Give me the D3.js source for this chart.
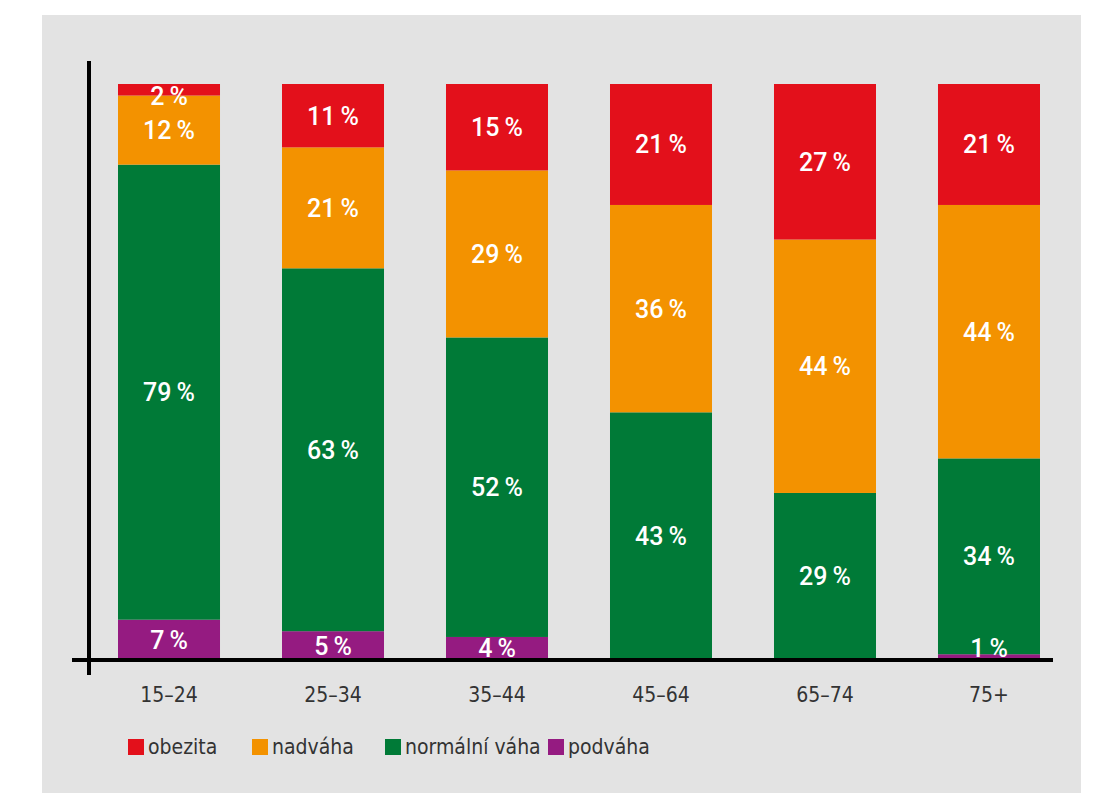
<!DOCTYPE html>
<html>
<head>
<meta charset="utf-8">
<script src="https://cdn.jsdelivr.net/npm/d3@7"></script>
<style>
  body { margin: 0; background: #fff; }
  text { font-family: "DejaVu Sans", sans-serif; font-stretch: condensed; }
</style>
</head>
<body>
<svg id="chart" width="1101" height="800"></svg>
<script>
'use strict'

// age groups on the x axis
const ageGroups = ['15–24', '25–34', '35–44', '45–64', '65–74', '75+']

// stacked series, bottom to top (percent)
const podvaha = [7, 5, 4, 0, 0, 1]
const normalniVaha = [79, 63, 52, 43, 29, 34]
const nadvaha = [12, 21, 29, 36, 44, 44]
const obezita = [2, 11, 15, 21, 27, 21]

const seriesNames = ['podváha', 'normální váha', 'nadváha', 'obezita']
const seriesValues = [podvaha, normalniVaha, nadvaha, obezita]
const seriesColors = ['#951b81', '#007a37', '#f39200', '#e3101b']

// legend order as printed under the chart
const legendOrder = ['obezita', 'nadváha', 'normální váha', 'podváha']
const legendX = [128, 252, 385, 548]

const svg = d3.select('#chart')

// grey panel behind the chart
svg.append('rect')
  .attr('x', 42).attr('y', 15)
  .attr('width', 1039).attr('height', 778)
  .attr('fill', '#e3e3e3')

const x = d3.scaleBand()
  .domain(ageGroups)
  .range([118, 1040])
  .paddingInner(0.378)
  .paddingOuter(0)

const y = d3.scaleLinear()
  .domain([0, 100])
  .range([660, 84])

const rows = ageGroups.map((g, i) => {
  const row = { group: g }
  seriesNames.forEach((name, s) => { row[name] = seriesValues[s][i] })
  return row
})

const stacked = d3.stack().keys(seriesNames)(rows)

svg.append('g')
  .selectAll('g.layer')
  .data(stacked)
  .join('g')
  .attr('class', 'layer')
  .attr('fill', (d, i) => seriesColors[i])
  .selectAll('rect')
  .data(d => d)
  .join('rect')
  .attr('x', d => x(d.data.group))
  .attr('width', x.bandwidth())
  .attr('y', d => y(d[1]))
  .attr('height', d => y(d[0]) - y(d[1]))

// value labels on top of all bars, kept inside the plot for tiny segments
const points = stacked.flatMap(layer => layer.filter(p => p[1] - p[0] > 0))

svg.append('g')
  .selectAll('text')
  .data(points)
  .join('text')
  .attr('x', d => x(d.data.group) + x.bandwidth() / 2)
  .attr('y', d => Math.min(Math.max((y(d[0]) + y(d[1])) / 2, y(98)), y(2)))
  .attr('dy', '0.36em')
  .attr('text-anchor', 'middle')
  .attr('fill', '#fff')
  .attr('font-size', 25)
  .attr('font-weight', 500)
  .style('font-family', 'Roboto, sans-serif')
  .style('font-stretch', 'normal')
  .text(d => `${d[1] - d[0]}\u2009%`)

// category labels
const xAxis = svg.append('g')
  .attr('transform', `translate(0,${y(0)})`)
  .call(d3.axisBottom(x).tickSize(0).tickPadding(27))
xAxis.select('.domain').remove()
xAxis.selectAll('text')
  .attr('font-size', 21)
  .attr('fill', '#333')
  .style('font-family', '"DejaVu Sans", sans-serif')
  .style('font-stretch', 'condensed')

// axis lines
svg.append('line')
  .attr('x1', 72).attr('x2', 1053)
  .attr('y1', y(0)).attr('y2', y(0))
  .attr('stroke', '#000').attr('stroke-width', 4)

svg.append('line')
  .attr('x1', 89).attr('x2', 89)
  .attr('y1', 61).attr('y2', 675)
  .attr('stroke', '#000').attr('stroke-width', 4)

// legend
const legend = svg.append('g')
  .selectAll('g')
  .data(legendOrder)
  .join('g')
  .attr('transform', (d, i) => `translate(${legendX[i]},747)`)

legend.append('rect')
  .attr('x', 0).attr('y', -8)
  .attr('width', 16).attr('height', 16)
  .attr('fill', d => seriesColors[seriesNames.indexOf(d)])

legend.append('text')
  .attr('x', 20)
  .attr('dy', '0.35em')
  .attr('font-size', 21)
  .attr('fill', '#333')
  .text(d => d)
</script>
</body>
</html>
